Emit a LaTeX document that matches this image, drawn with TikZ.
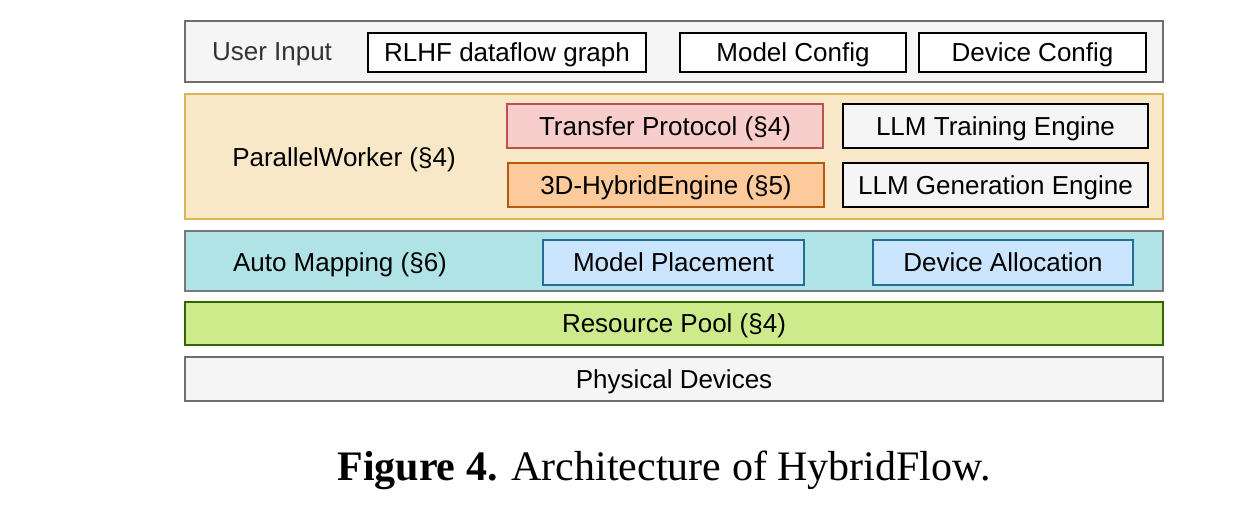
\documentclass[tikz,border=0pt]{standalone}
\usepackage{fontspec}
\setmainfont{Liberation Sans}
\newfontfamily\capfont{Liberation Serif}
\definecolor{userfill}{HTML}{F5F5F5}
\definecolor{userdraw}{HTML}{6E6E6E}
\definecolor{pwfill}{HTML}{F9E8C8}
\definecolor{pwdraw}{HTML}{D6B656}
\definecolor{tpfill}{HTML}{F8CECC}
\definecolor{tpdraw}{HTML}{B85450}
\definecolor{hefill}{HTML}{FDCB9B}
\definecolor{hedraw}{HTML}{B45A10}
\definecolor{amfill}{HTML}{B0E3E6}
\definecolor{amdraw}{HTML}{787878}
\definecolor{mpfill}{HTML}{CCE5FF}
\definecolor{mpdraw}{HTML}{1F6F99}
\definecolor{rpfill}{HTML}{CDEB8B}
\definecolor{rpdraw}{HTML}{336600}
\definecolor{labgray}{HTML}{333333}
\begin{document}
\begin{tikzpicture}[x=1pt,y=-1pt,
  every node/.style={inner sep=0pt, outer sep=0pt, text depth=0pt, font=\fontsize{26}{30}\selectfont},
  layer/.style={draw, line width=1.8pt, minimum width=978pt},
  box/.style={draw, line width=1.8pt},
]
\fill[white] (0,0) rectangle (1240,520);
\useasboundingbox (0,0) rectangle (1240,520);

% User input layer
\node[layer, draw=userdraw, fill=userfill, minimum height=61pt] (user) at (674,51.5) {};
\node[text=labgray] (userlab) at (272,52) {User Input};
\node[box, fill=white, minimum width=278pt, minimum height=39pt] (rlhf) at (507,52.5) {RLHF dataflow graph};
\node[box, fill=white, minimum width=226pt, minimum height=39pt] (mconf) at (793,52.5) {Model Config};
\node[box, fill=white, minimum width=227pt, minimum height=39pt] (dconf) at (1032.5,52.5) {Device Config};

% ParallelWorker layer
\node[layer, draw=pwdraw, fill=pwfill, minimum height=125pt] (pw) at (674,156.5) {};
\node (pwlab) at (344,157) {ParallelWorker (§4)};
\node[box, draw=tpdraw, fill=tpfill, minimum width=316pt, minimum height=44pt] (tp) at (665,126) {Transfer Protocol (§4)};
\node[box, draw=hedraw, fill=hefill, minimum width=316pt, minimum height=44pt] (he) at (666,185) {3D-HybridEngine (§5)};
\node[box, fill=userfill, minimum width=305pt, minimum height=44pt] (train) at (995.5,126) {LLM Training Engine};
\node[box, fill=userfill, minimum width=305pt, minimum height=44pt] (gen) at (995.5,185) {LLM Generation Engine};

% Auto mapping layer
\node[layer, draw=amdraw, fill=amfill, minimum height=60pt] (am) at (674,261) {};
\node (amlab) at (340,262) {Auto Mapping (§6)};
\node[box, draw=mpdraw, fill=mpfill, minimum width=261pt, minimum height=45pt] (mp) at (673.5,262.5) {Model Placement};
\node[box, draw=mpdraw, fill=mpfill, minimum width=260pt, minimum height=45pt] (da) at (1003,262.5) {Device Allocation};

% Resource pool
\node[layer, draw=rpdraw, fill=rpfill, minimum height=43pt] (rp) at (674,323.5) {Resource Pool (§4)};

% Physical devices
\node[layer, draw=userdraw, fill=userfill, minimum height=44pt] (pd) at (674,379) {Physical Devices};

% Caption
\node[font=\capfont\fontsize{42}{46}\selectfont] (cap) at (664,466) {\textbf{Figure 4.} Architecture of HybridFlow.};
\end{tikzpicture}
\end{document}
